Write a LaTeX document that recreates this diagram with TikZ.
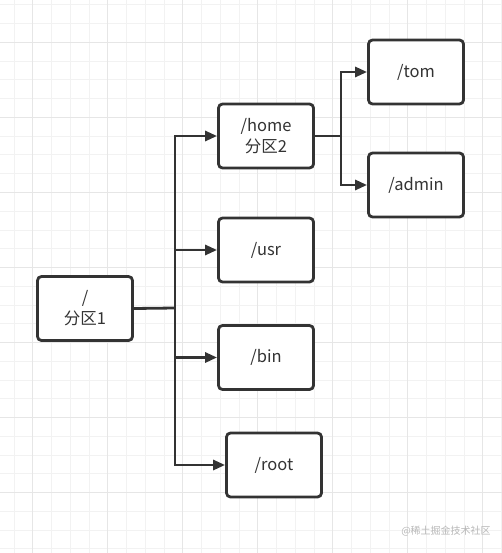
\documentclass[tikz,border=0pt]{standalone}
\usepackage{fontspec}
\setmainfont{Noto Sans CJK SC}
\usetikzlibrary{arrows.meta}
\definecolor{ink}{HTML}{333333}
\definecolor{gridminor}{HTML}{F2F2F2}
\definecolor{gridmajor}{HTML}{E6E6E6}
\definecolor{wm}{HTML}{B8B8B8}
\tikzset{
  box/.style={draw=ink, line width=2.8pt, rounded corners=4pt, fill=white,
    minimum width=95pt, minimum height=64pt, inner sep=0pt, align=center,
    text=ink, font=\fontsize{16.5}{21}\selectfont},
  conn/.style={draw=ink, line width=2.8pt},
  arr/.style={conn, -{Triangle[length=12pt,width=10pt]}}
}
\begin{document}
\begin{tikzpicture}[x=1pt,y=-1pt]
\useasboundingbox (0,0) rectangle (502,553);
\fill[white] (0,0) rectangle (502,553);
% grid
\foreach \k in {0,...,26}{\draw[gridminor, line width=1pt] ({14+\k*18.75},0) -- ({14+\k*18.75},553);}
\foreach \k in {0,...,29}{\draw[gridminor, line width=1pt] (0,{5+\k*18.75}) -- (502,{5+\k*18.75});}
\foreach \k in {0,...,6}{\draw[gridmajor, line width=1pt] ({32.75+\k*75},0) -- ({32.75+\k*75},553);}
\foreach \k in {0,...,6}{\draw[gridmajor, line width=1pt] (0,{42.5+\k*75}) -- (502,{42.5+\k*75});}
% nodes
\node[box] (r) at (85,308.5) {/\\分区1};
\node[box] (home) at (266,136) {/home\\分区2};
\node[box] (usr) at (266,250) {/usr};
\node[box] (bin) at (266,357.5) {/bin};
\node[box] (rootdir) at (274,465) {/root};
\node[box] (tom) at (416,72) {/tom};
\node[box] (admin) at (416,185) {/admin};
\coordinate (t) at (175,308);
\coordinate (s) at (341,136);
% connectors
\draw[conn] (r.east) -- (t);
\draw[conn, line cap=rect] (t |- home.west) -- (t |- rootdir.west);
\draw[arr] (t |- home.west) -- (home.west);
\draw[arr] (t |- usr.west) -- (usr.west);
\draw[arr] (t |- bin.west) -- (bin.west);
\draw[arr] (t |- rootdir.west) -- (rootdir.west);
\draw[conn] (home.east) -- (s);
\draw[conn, line cap=rect] (s |- tom.west) -- (s |- admin.west);
\draw[arr] (s |- tom.west) -- (tom.west);
\draw[arr] (s |- admin.west) -- (admin.west);
% watermark
\node[text=wm, font=\fontsize{10}{12}\selectfont, inner sep=0pt] (wmk) at (446,531) {@稀土掘金技术社区};
\end{tikzpicture}
\end{document}
